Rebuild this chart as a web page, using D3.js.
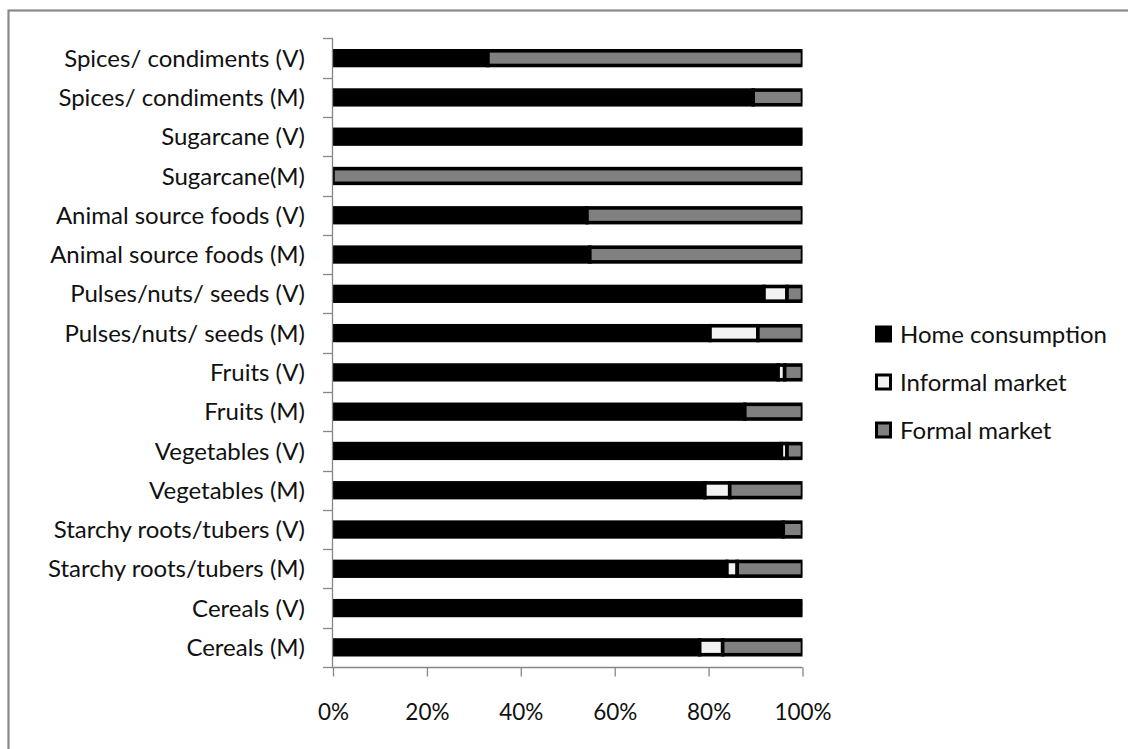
<!DOCTYPE html>
<html>
<head>
<meta charset="utf-8">
<script src="https://cdn.jsdelivr.net/npm/d3@7"></script>
<style>
    body { margin: 0; background: #fff; }
    svg { display: block; }
    text { font-family: Lato, "Open Sans", sans-serif; fill: #111; }
</style>
</head>
<body>
<svg id="chart" width="1128" height="749"></svg>
<script>
// categories listed top to bottom, as on the chart
var categories = ['Spices/ condiments (V)', 'Spices/ condiments (M)', 'Sugarcane (V)', 'Sugarcane(M)',
    'Animal source foods (V)', 'Animal source foods (M)', 'Pulses/nuts/ seeds (V)', 'Pulses/nuts/ seeds (M)',
    'Fruits (V)', 'Fruits (M)', 'Vegetables (V)', 'Vegetables (M)', 'Starchy roots/tubers (V)',
    'Starchy roots/tubers (M)', 'Cereals (V)', 'Cereals (M)'];
// shares in %
var homeConsumption = [33, 89.5, 100, 0, 54.1, 54.7, 91.8, 80.3, 94.8, 87.7, 95.5, 79.2, 95.9, 83.9, 100, 78.1];
var informalMarket = [0, 0, 0, 0, 0, 0, 4.9, 10.2, 1.4, 0, 1.2, 5.3, 0, 2.2, 0, 4.9];
var formalMarket = [67, 10.5, 0, 100, 45.9, 45.3, 3.3, 9.5, 3.8, 12.3, 3.3, 15.5, 4.1, 13.9, 0, 17.0];
var seriesNames = ['Home consumption', 'Informal market', 'Formal market'];
var seriesColors = ['#000000', '#f2f2f2', '#808080'];
var xTicks = [0, 20, 40, 60, 80, 100];

(function () {
    var svg = d3.select('#chart');
    var plot = {left: 333, right: 802.5, top: 38.5, bottom: 667};
    var axisColor = '#868686';
    var labelSize = '24px';

    //region outer frame (right and bottom edges fall outside the picture)
    svg.append('rect')
        .attr('x', 8.5).attr('y', 10.5)
        .attr('width', 1300).attr('height', 900)
        .attr('fill', 'none')
        .attr('stroke', '#898989')
        .attr('stroke-width', 2.2);
    //endregion

    var x = d3.scaleLinear().domain([0, 100]).range([plot.left, plot.right]);
    var y = d3.scaleBand().domain(categories).range([plot.top, plot.bottom])
        .paddingInner(0.626).paddingOuter(0.313);

    // stack the three series
    var rows = categories.map(function (c, i) {
        return {cat: c, home: homeConsumption[i], informal: informalMarket[i], formal: formalMarket[i]};
    });
    var stack = d3.stack().keys(['home', 'informal', 'formal'])(rows);

    svg.append('clipPath').attr('id', 'plotClip')
        .append('rect')
        .attr('x', plot.left).attr('y', plot.top)
        .attr('width', plot.right - plot.left).attr('height', plot.bottom - plot.top);

    var bars = svg.append('g').attr('clip-path', 'url(#plotClip)');
    stack.forEach(function (layer, k) {
        bars.append('g')
            .selectAll('rect')
            .data(layer.filter(function (d) { return d[1] - d[0] > 0; }))
            .enter().append('rect')
            .attr('x', function (d) { return x(d[0]); })
            .attr('width', function (d) { return x(d[1]) - x(d[0]); })
            .attr('y', function (d) { return y(d.data.cat); })
            .attr('height', y.bandwidth())
            .attr('fill', seriesColors[k])
            .attr('stroke', '#000')
            .attr('stroke-width', 3.6);
    });

    //region axes
    var yAxis = svg.append('g');
    yAxis.append('line')
        .attr('x1', plot.left - 0.5).attr('x2', plot.left - 0.5)
        .attr('y1', plot.top).attr('y2', plot.bottom)
        .attr('stroke', axisColor).attr('stroke-width', 1.3);
    // ticks sit between categories
    var bounds = categories.map(function (c) { return y(c) - y.step() * y.paddingInner() / 2; });
    bounds.push(plot.bottom);
    yAxis.selectAll('line.tick').data(bounds).enter().append('line')
        .attr('class', 'tick')
        .attr('x1', plot.left - 10).attr('x2', plot.left)
        .attr('y1', function (d) { return Math.round(d) + 0.5; })
        .attr('y2', function (d) { return Math.round(d) + 0.5; })
        .attr('stroke', axisColor).attr('stroke-width', 1.3);
    yAxis.selectAll('text').data(categories).enter().append('text')
        .attr('x', 305)
        .attr('y', function (d) { return y(d) + y.bandwidth() / 2; })
        .attr('dy', '0.36em')
        .attr('text-anchor', 'end')
        .style('font-size', labelSize)
        .text(function (d) { return d; });

    var xAxis = svg.append('g')
        .attr('transform', 'translate(0,' + (plot.bottom + 0.5) + ')')
        .call(d3.axisBottom(x).tickValues(xTicks).tickSize(9).tickSizeOuter(0)
            .tickFormat(function (d) { return d + '%'; }));
    xAxis.select('.domain').attr('stroke', axisColor).attr('stroke-width', 1.3)
        .attr('d', 'M' + (plot.left - 0.5) + ',0H' + plot.right);
    xAxis.selectAll('.tick line').attr('stroke', axisColor).attr('stroke-width', 1.3);
    xAxis.selectAll('.tick text')
        .attr('y', 52).attr('dy', 0)
        .attr('fill', '#111')
        .style('font-family', 'Lato, "Open Sans", sans-serif')
        .style('font-size', '22.5px');
    //endregion

    //region legend
    var legend = svg.append('g');
    var rowY = [334, 382, 430];
    seriesNames.forEach(function (name, i) {
        legend.append('rect')
            .attr('x', 876.5).attr('y', rowY[i] - 7)
            .attr('width', 14).attr('height', 14)
            .attr('fill', seriesColors[i])
            .attr('stroke', '#000').attr('stroke-width', 3);
        legend.append('text')
            .attr('x', 900).attr('y', rowY[i])
            .attr('dy', '0.36em')
            .style('font-size', labelSize)
            .text(name);
    });
    //endregion
})();
</script>
</body>
</html>
